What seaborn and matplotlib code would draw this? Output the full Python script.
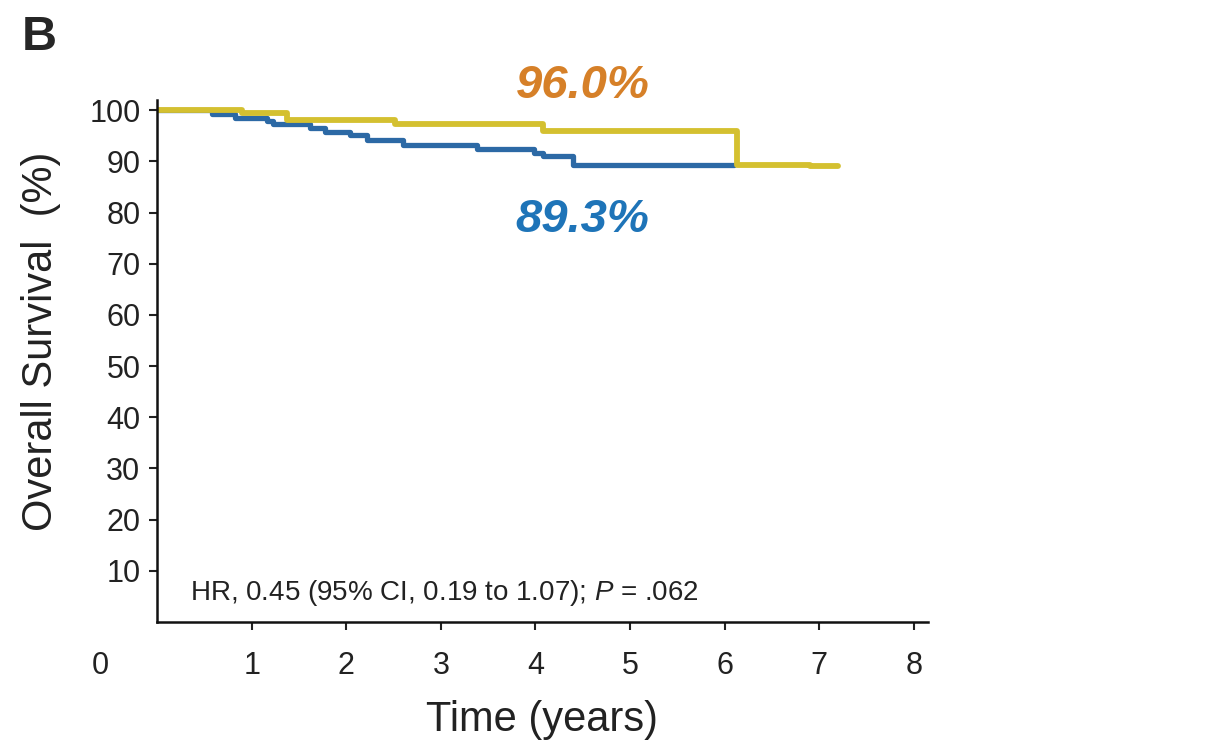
import pandas as pd
import matplotlib.pyplot as plt
import seaborn as sns

# Kaplan-Meier step points (time in years, survival in %)
time_blue = [0, 0.58, 0.82, 1.16, 1.23, 1.62, 1.78, 2.04, 2.22, 2.60, 3.38, 3.98, 4.08, 4.40, 6.10]
surv_blue = [100, 99.2, 98.5, 97.9, 97.2, 96.5, 95.8, 95.1, 94.1, 93.2, 92.4, 91.6, 91.0, 89.3, 89.3]

time_yellow = [0, 0.90, 1.37, 2.52, 4.08, 6.13, 6.90, 7.20]
surv_yellow = [100, 99.5, 98.0, 97.2, 96.0, 89.3, 89.0, 89.0]

yticks = [10, 20, 30, 40, 50, 60, 70, 80, 90, 100]
xticks = [1, 2, 3, 4, 5, 6, 7, 8]

sns.set_style("ticks")
plt.rcParams['font.family'] = ['Liberation Sans', 'DejaVu Sans']
plt.rcParams['mathtext.fontset'] = 'custom'
plt.rcParams['mathtext.rm'] = 'Liberation Sans'
plt.rcParams['mathtext.it'] = 'Liberation Sans:italic'

df = pd.concat([
    pd.DataFrame({'time': time_blue, 'surv': surv_blue, 'arm': 'blue'}),
    pd.DataFrame({'time': time_yellow, 'surv': surv_yellow, 'arm': 'yellow'}),
])

fig = plt.figure(figsize=(12.09, 7.49), dpi=100)
ax = fig.add_axes([0.1299, 0.1696, 0.6377, 0.697])

colors = {'blue': '#2c69a5', 'yellow': '#d4c030'}
widths = {'blue': 3.8, 'yellow': 4.2}
for arm in ['blue', 'yellow']:
    sns.lineplot(data=df[df['arm'] == arm], x='time', y='surv',
                 color=colors[arm], linewidth=widths[arm],
                 drawstyle='steps-post', estimator=None, sort=False,
                 legend=False, ax=ax)

ax.set_xlim(0, 8.15)
ax.set_ylim(0, 102)
ax.set_xticks(xticks)
ax.set_yticks(yticks)
ax.tick_params(axis='y', labelsize=22, length=6, width=1.5, pad=6, colors='#222222')
ax.tick_params(axis='x', labelsize=22, length=6, width=1.5, pad=15, colors='#222222')
sns.despine(ax=ax)
for s in ['left', 'bottom']:
    ax.spines[s].set_color('#111111')
    ax.spines[s].set_linewidth(1.8)

ax.set_xlabel('Time (years)', fontsize=30, color='#222222')
ax.set_ylabel('Overall Survival  (%)', fontsize=30, color='#222222')
ax.xaxis.set_label_coords(0.4994, -0.150)
ax.yaxis.set_label_coords(-0.125, 0.538)

# lone "0" at the origin, set in the x tick row
ax.text(-0.6, -0.084, '0', transform=ax.get_xaxis_transform(),
        fontsize=22, ha='center', va='center', color='#222222')

ax.text(4.5, 104.7, '96.0%', fontsize=34, fontweight='bold', fontstyle='italic',
        color='#d68028', ha='center', va='center')
ax.text(4.5, 78.5, '89.3%', fontsize=34, fontweight='bold', fontstyle='italic',
        color='#1e74b8', ha='center', va='center')

ax.text(0.35, 4.3, 'HR, 0.45 (95% CI, 0.19 to 1.07); $\\it{P}$ = .062',
        fontsize=20, color='#222222', va='baseline')

fig.text(0.018, 0.933, 'B', fontsize=35, fontweight='bold', va='baseline')

plt.savefig('out.png', dpi=100)
